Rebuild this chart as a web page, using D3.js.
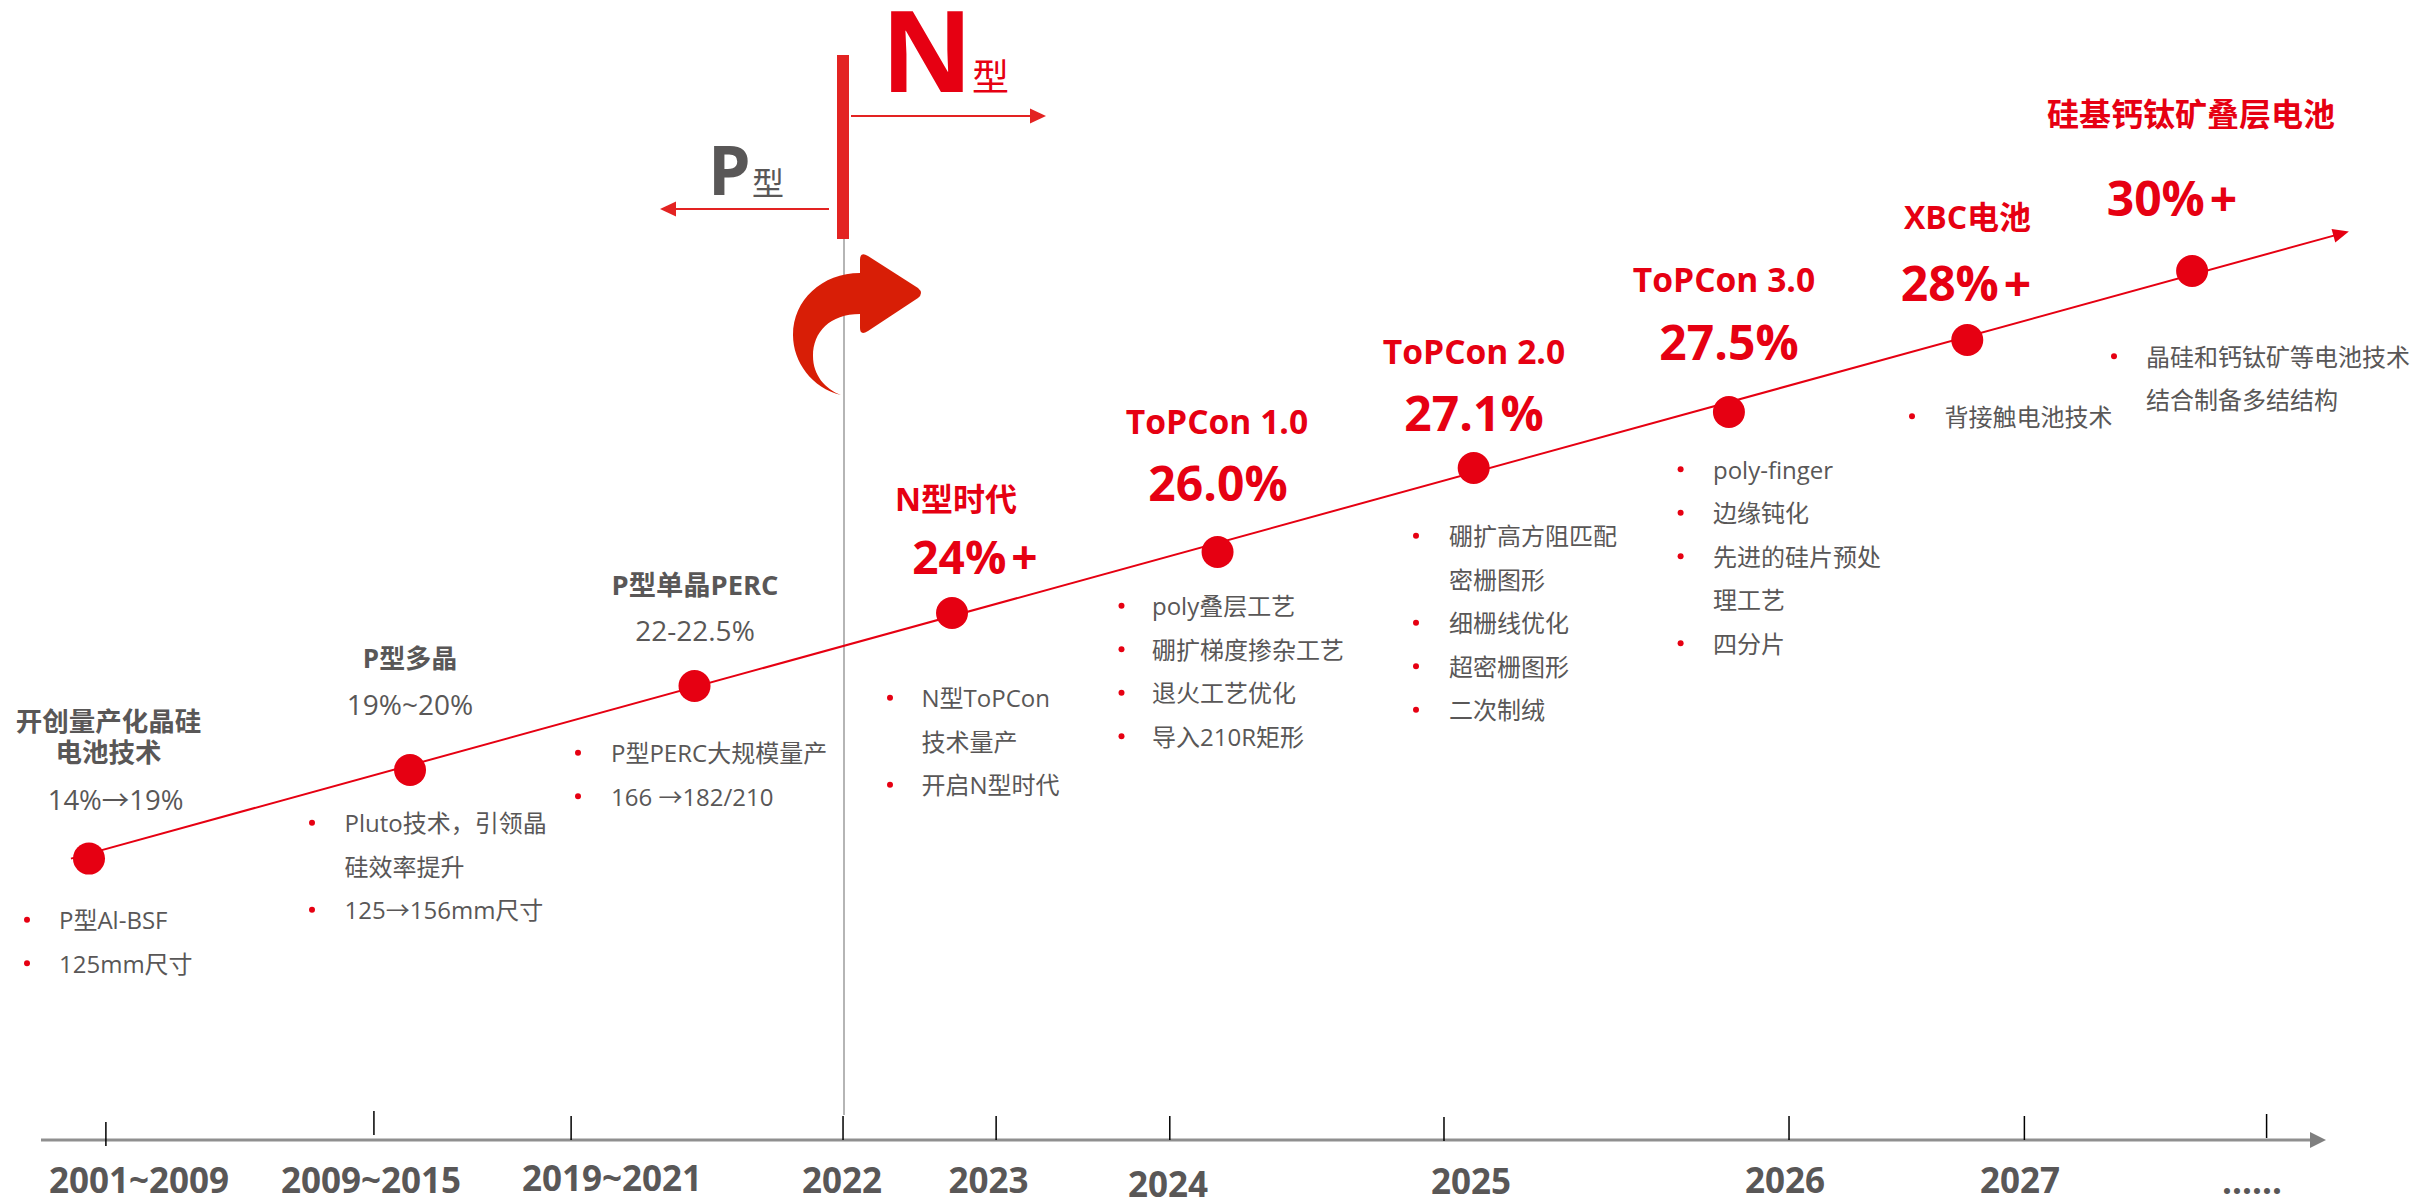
<!DOCTYPE html>
<html>
<head>
<meta charset="utf-8">
<script src="https://cdn.jsdelivr.net/npm/d3@7/dist/d3.min.js"></script>
<style>
html,body{margin:0;padding:0;background:#fff;overflow:hidden}
svg{display:block}
text{font-family:"Open Sans","Noto Sans CJK SC",sans-serif}
</style>
</head>
<body>
<script>
// ---- data ----
const periods = ["2001~2009","2009~2015","2019~2021","2022","2023","2024","2025","2026","2027","......"];
const tickPositions = [2.84,14.57,23.2,35.1,41.8,49.4,61.4,76.5,86.8,97.4];
const stagePositions = [2.1,16.15,28.6,39.87,51.49,62.7,73.87,84.3,94.14];
const stageLevels = [28.14,37.0,45.4,52.7,58.8,67.2,72.8,80.0,86.9];
const trendStart = [1.31,28.14];
const trendEnd = [101.0,90.85];
const stageTitles = [
  ["开创量产化晶硅","电池技术"],["P型多晶"],["P型单晶PERC"],["N型时代"],
  ["ToPCon 1.0"],["ToPCon 2.0"],["ToPCon 3.0"],["XBC电池"],["硅基钙钛矿叠层电池"]
];
const stageRates = ["14%→19%","19%~20%","22-22.5%","24%+","26.0%","27.1%","27.5%","28%+","30%+"];
const stageNotes = [
  [["P型Al-BSF"],["125mm尺寸"]],
  [["Pluto技术，引领晶","硅效率提升"],["125→156mm尺寸"]],
  [["P型PERC大规模量产"],["166 →182/210"]],
  [["N型ToPCon","技术量产"],["开启N型时代"]],
  [["poly叠层工艺"],["硼扩梯度掺杂工艺"],["退火工艺优化"],["导入210R矩形"]],
  [["硼扩高方阻匹配","密栅图形"],["细栅线优化"],["超密栅图形"],["二次制绒"]],
  [["poly-finger"],["边缘钝化"],["先进的硅片预处","理工艺"],["四分片"]],
  [["背接触电池技术"]],
  [["晶硅和钙钛矿等电池技术","结合制备多结结构"]]
];

// ---- layout ----
const W=2412,H=1199;
const RED="#e60012", GREY="#595757", ARROW="#e32322";
const x=d3.scaleLinear().domain([0,100]).range([41,2326]);
const y=d3.scaleLinear().domain([0,100]).range([1140,140]);
const svg=d3.select("body").append("svg").attr("width",W).attr("height",H).attr("viewBox",`0 0 ${W} ${H}`);

// tick label placement
const tickLabelX=[139,371,612,842,988.5,1168,1471,1785,2020,2252];
const tickLabelY=[1193,1193,1191,1193,1193,1197,1194,1193,1193,1194];
const tickTop=[1122,1111,1116,1116,1116,1116,1117,1116,1116,1114];

// title / rate placement
const titleX=[108.5,410,695,956,1217,1474,1724,1967.5,2191];
const titleY=[730.6,668,595,511,433.6,363.6,292,229,126];
const rateX=[115.6,410,695,975,1218,1474,1729,1966,2172];
const rateY=[810,714.6,641,574,500.6,430.5,360,301,216];
const titleSize=[26.5,26,27.3,32,33.6,33.6,33.6,32,32];
const rateSize=[27.5,28,28,46,48,48,48,48,48];

// notes placement: dot x, text x, first baseline per bullet group
const noteDotX=[27,312,578,890,1121.5,1416,1680.6,1912,2114];
const noteTextX=[59,344.6,611,921.5,1152,1449,1713,1944.5,2146];
const noteY=[929,832,762,707,615,545,478.5,425.6,365.5];
const noteLine=43.5;

// grey vertical divider
svg.append("line").attr("x1",844).attr("x2",844).attr("y1",239).attr("y2",1115)
  .attr("stroke","#b5b5b5").attr("stroke-width",2);

// bottom axis
svg.append("line").attr("x1",x(0)).attr("x2",x(99.4)).attr("y1",y(0)).attr("y2",y(0))
  .attr("stroke","#8f8f8f").attr("stroke-width",3);
svg.append("path").attr("d",`M${x(99.3)},${y(0)-8}L${x(100)},${y(0)}L${x(99.3)},${y(0)+8}Z`).attr("fill","#7f7f7f");
svg.selectAll("line.tick").data(tickPositions).join("line").attr("class","tick")
  .attr("x1",d=>x(d)).attr("x2",d=>x(d))
  .attr("y1",(d,i)=>tickTop[i]).attr("y2",(d,i)=>tickTop[i]+24)
  .attr("stroke","#000").attr("stroke-width",1.5);
svg.selectAll("text.period").data(periods).join("text").attr("class","period")
  .attr("x",(d,i)=>tickLabelX[i]).attr("y",(d,i)=>tickLabelY[i])
  .attr("text-anchor","middle").attr("font-size",35).attr("font-weight",700).attr("fill",GREY)
  .text(d=>d);

// trend line: straight, from start to arrow tip; the stage dots sit on or near it
const tx=x(trendEnd[0]),ty=y(trendEnd[1]),sx=x(trendStart[0]),sy=y(trendStart[1]);
const a=Math.atan2(ty-sy,tx-sx);
svg.append("line").attr("x1",sx).attr("y1",sy).attr("x2",tx-8*Math.cos(a)).attr("y2",ty-8*Math.sin(a))
  .attr("stroke",RED).attr("stroke-width",2);
const hl=16,hw=7,bx=tx-hl*Math.cos(a),by0=ty-hl*Math.sin(a);
svg.append("path").attr("d",`M${tx},${ty}L${bx-hw*Math.sin(a)},${by0+hw*Math.cos(a)}L${bx+hw*Math.sin(a)},${by0-hw*Math.cos(a)}Z`).attr("fill",RED);
svg.selectAll("circle.stage").data(stagePositions).join("circle").attr("class","stage")
  .attr("cx",d=>x(d)).attr("cy",(d,i)=>y(stageLevels[i])).attr("r",16).attr("fill",RED);

// titles and rates
stageTitles.forEach((lines,i)=>{
  const c=i<3?GREY:RED;
  lines.forEach((t,j)=>{
    svg.append("text").attr("x",titleX[i]).attr("y",titleY[i]+j*31.5)
      .attr("text-anchor","middle").attr("font-size",titleSize[i]).attr("font-weight",700).attr("fill",c).text(t);
  });
  const rate=svg.append("text").attr("x",rateX[i]).attr("y",rateY[i])
    .attr("text-anchor","middle").attr("font-size",rateSize[i]).attr("font-weight",i<3?400:700).attr("fill",c);
  const s=stageRates[i];
  if(s.endsWith("+")){
    rate.append("tspan").text(s.slice(0,-1));
    rate.append("tspan").attr("dx",5).text("+");
  } else rate.text(s);
});

// notes
stageNotes.forEach((groups,i)=>{
  let row=0;
  groups.forEach(g=>{
    const by=noteY[i]+row*noteLine;
    svg.append("circle").attr("cx",noteDotX[i]).attr("cy",by-9.3).attr("r",3).attr("fill",RED);
    g.forEach(t=>{
      svg.append("text").attr("x",noteTextX[i]).attr("y",noteY[i]+row*noteLine)
        .attr("font-size",24).attr("fill",GREY).text(t);
      row++;
    });
  });
});

// P / N divider
svg.append("rect").attr("x",837).attr("y",55).attr("width",12).attr("height",184).attr("fill",ARROW);
svg.append("line").attr("x1",851).attr("x2",1032).attr("y1",116).attr("y2",116).attr("stroke",ARROW).attr("stroke-width",2);
svg.append("path").attr("d","M1030,108.5L1046,116L1030,123.5Z").attr("fill",ARROW);
svg.append("line").attr("x1",829).attr("x2",674).attr("y1",209).attr("y2",209).attr("stroke",ARROW).attr("stroke-width",2);
svg.append("path").attr("d","M676,201.5L660,209L676,216.5Z").attr("fill",ARROW);
svg.append("text").attr("x",881).attr("y",92).attr("font-size",113).attr("font-weight",700).attr("fill",RED).text("N");
svg.append("text").attr("x",972).attr("y",91).attr("font-size",37).attr("fill",RED).text("型");
svg.append("text").attr("x",708).attr("y",195).attr("font-size",68).attr("font-weight",700).attr("fill",GREY).text("P");
svg.append("text").attr("x",752).attr("y",195).attr("font-size",32).attr("fill",GREY).text("型");

// curved arrow
svg.append("path").attr("fill","#d81e06").attr("d",
  "M860,273 L860,260 Q860,251 868,256 L918,288 Q924,293 918,298 L868,331 Q860,336 860,328 L860,314 " +
  "C830,314 813,332 813,356 C813,375 825,389 841,395 C812,388 793,362 793,335 C793,300 822,273 860,273 Z");
</script>
</body>
</html>
